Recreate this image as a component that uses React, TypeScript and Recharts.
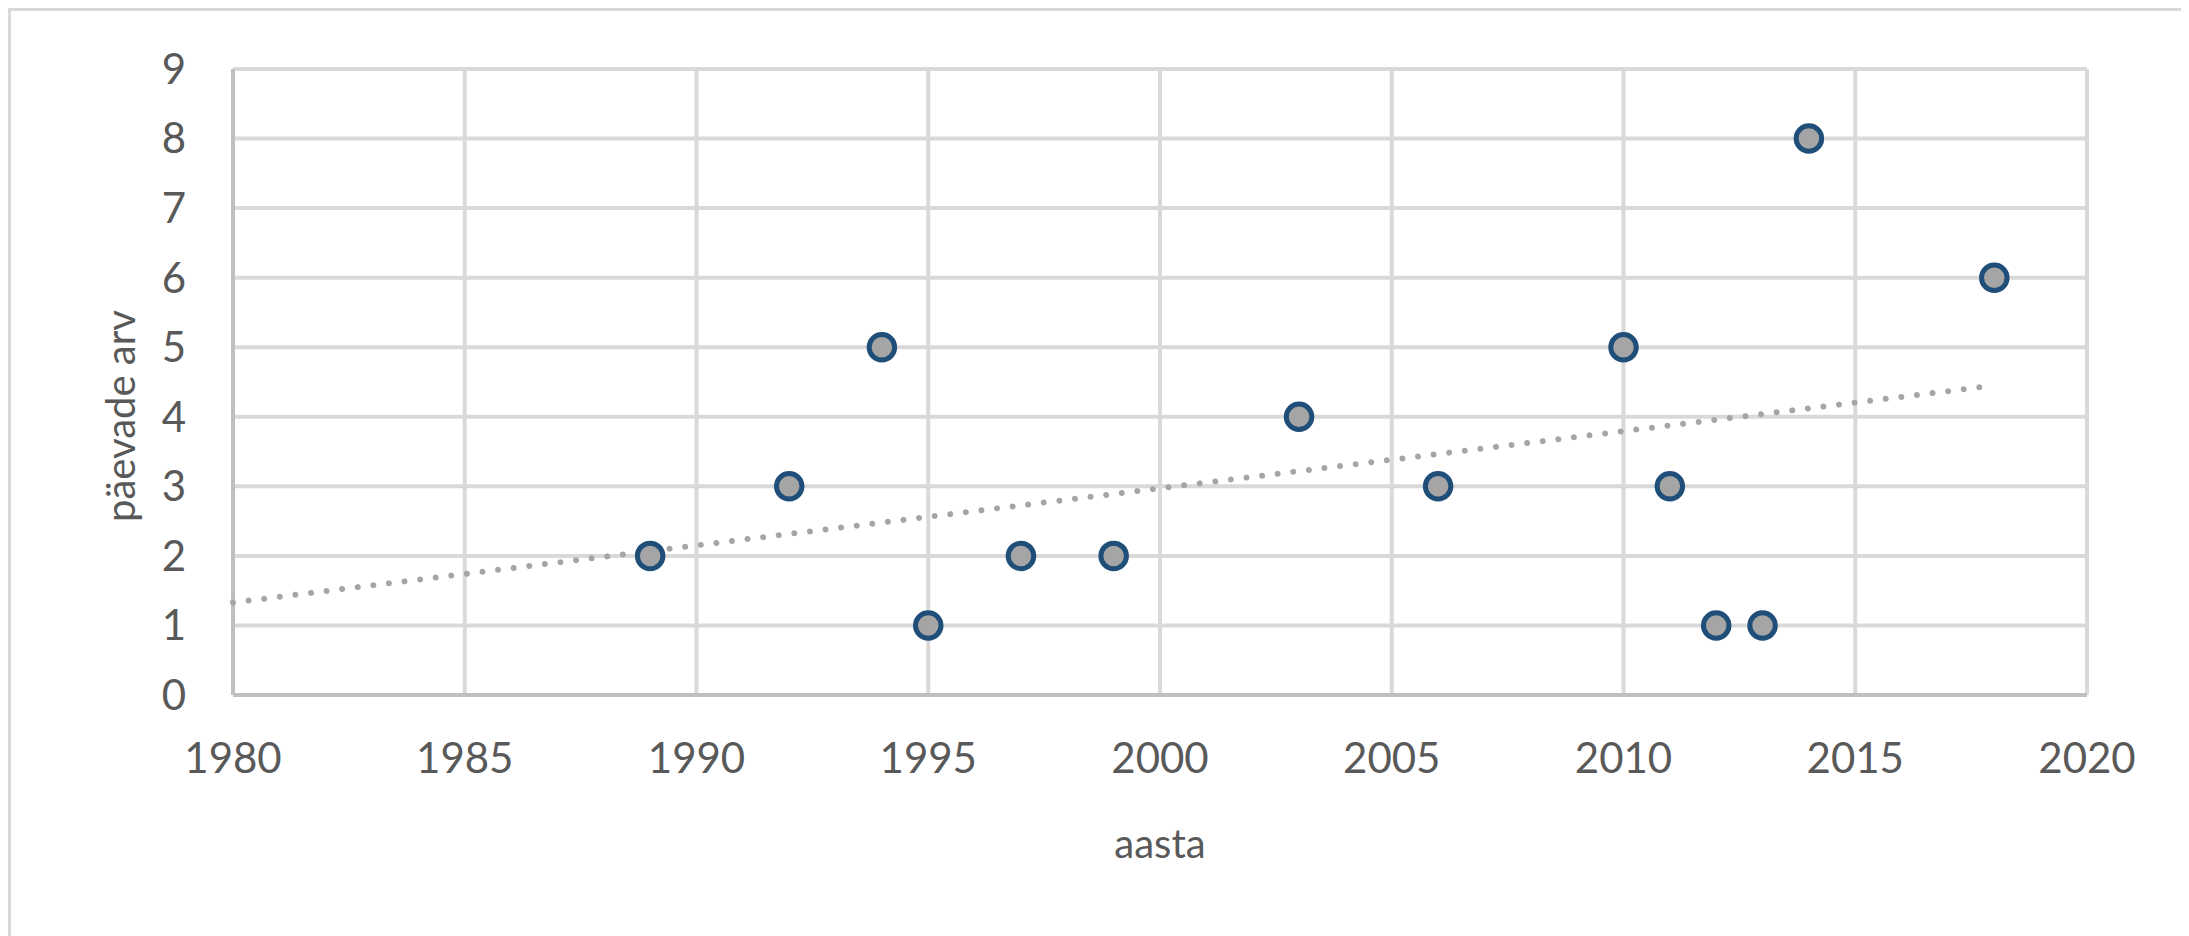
import React from 'react';
import { ScatterChart, Scatter, XAxis, YAxis, CartesianGrid } from 'recharts';

const years = [1989, 1992, 1994, 1995, 1997, 1999, 2003, 2006, 2010, 2011, 2012, 2013, 2014, 2018];
const days = [2, 3, 5, 1, 2, 2, 4, 3, 5, 3, 1, 1, 8, 6];

// linear trendline end points
const trendYears = [1980, 2018];
const trendDays = [1.33, 4.45];

const xTicks = [1980, 1985, 1990, 1995, 2000, 2005, 2010, 2015, 2020];
const yTicks = [0, 1, 2, 3, 4, 5, 6, 7, 8, 9];

const points = years.map((year, i) => ({ x: year, y: days[i] }));
const trend = trendYears.map((year, i) => ({ x: year, y: trendDays[i] }));

const FONT = 'Lato, "Open Sans", sans-serif';
const TEXT = '#595959';

const Dot = (props: any) => {
  const { cx, cy } = props;
  if (cx == null || cy == null) return null;
  return <circle cx={cx} cy={cy} r={12.75} fill="#a5a5a5" stroke="#1f4e79" strokeWidth={5} />;
};

const App = () => {
  return (
    <div style={{ position: 'relative', width: 2181, height: 928, background: '#fff' }}>
      <ScatterChart width={2181} height={928} margin={{ top: 61, right: 102, left: 0, bottom: 0 }}>
        <CartesianGrid stroke="#d9d9d9" strokeWidth={4} />
        <XAxis
          type="number"
          dataKey="x"
          domain={[1980, 2020]}
          ticks={xTicks}
          height={241}
          axisLine={{ stroke: '#bfbfbf', strokeWidth: 4 }}
          tickLine={false}
          tickSize={0}
          tickMargin={48}
          tick={{ fill: TEXT, fontSize: 42, fontFamily: FONT }}
          label={{
            value: 'aasta',
            position: 'insideTop',
            offset: 135,
            fill: TEXT,
            fontSize: 40,
            fontFamily: FONT,
          }}
        />
        <YAxis
          type="number"
          dataKey="y"
          domain={[0, 9]}
          ticks={yTicks}
          width={225}
          axisLine={{ stroke: '#bfbfbf', strokeWidth: 4 }}
          tickLine={false}
          tickSize={0}
          tickMargin={47}
          tick={{ fill: TEXT, fontSize: 42, fontFamily: FONT }}
          label={{
            content: () => (
              <text
                x={112}
                y={408}
                transform="rotate(-90 112 408)"
                textAnchor="middle"
                dominantBaseline="central"
                fill={TEXT}
                fontSize={40}
                fontFamily={FONT}
              >
                päevade arv
              </text>
            ),
          }}
        />
        <Scatter
          data={trend}
          isAnimationActive={false}
          shape={() => <g />}
          line={{ stroke: '#a5a5a5', strokeWidth: 6, strokeDasharray: '0.01 15.7', strokeLinecap: 'round' }}
        />
        <Scatter data={points} isAnimationActive={false} shape={<Dot />} />
      </ScatterChart>
      <div
        style={{
          position: 'absolute',
          left: 0,
          top: 0,
          width: '100%',
          height: '100%',
          boxSizing: 'border-box',
          borderTop: '3px solid #d9d9d9',
          borderLeft: '3px solid #d9d9d9',
          pointerEvents: 'none',
        }}
      />
    </div>
  );
};

export default App;
